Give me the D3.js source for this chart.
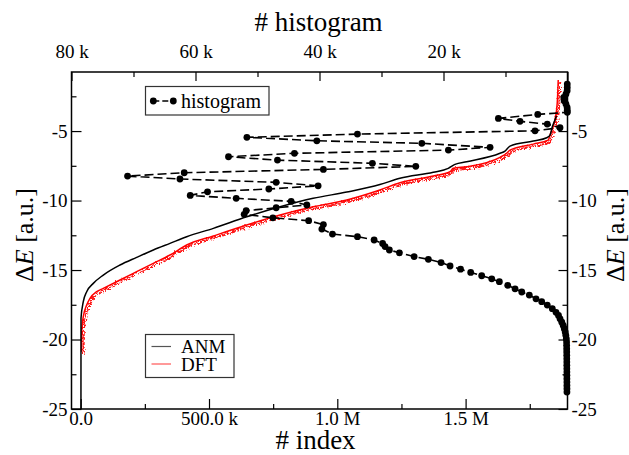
<!DOCTYPE html>
<html><head><meta charset="utf-8">
<script src="https://cdn.jsdelivr.net/npm/d3@7"></script>
<style>
html,body{margin:0;padding:0;background:#fff;}
svg{display:block;font-family:"Liberation Serif","Times New Roman",serif;}
</style></head>
<body><svg id="c" width="629" height="455"></svg>
<script>
// ---- data ----
const anmIndex = [1000, 1200, 10100, 23400, 49100, 88100, 153000, 218000, 283000, 348000, 413000, 517000, 647000, 777000, 906000, 1037000, 1166000, 1244000, 1374000, 1432500, 1458600, 1504000, 1634000, 1653500, 1673000, 1764000, 1816000, 1829000, 1838000, 1848000, 1854000];
const anmEnergy = [-25.0, -18.47, -17.28, -16.56, -15.96, -15.36, -14.64, -14.09, -13.56, -13.08, -12.60, -12.0, -11.17, -10.45, -9.84, -9.39, -8.85, -8.40, -7.97, -7.68, -7.40, -7.21, -6.60, -6.44, -6.08, -5.72, -5.48, -5.29, -4.69, -4.21, -3.92];

const dftIndex = [3600, 4200, 10100, 23400, 36200, 62400, 88100, 153000, 218000, 283000, 348000, 413000, 517000, 647000, 777000, 906000, 1037000, 1166000, 1244000, 1374000, 1439000, 1452000, 1504000, 1634000, 1660000, 1673000, 1764000, 1822000, 1831000, 1848000, 1857000, 1861000];
const dftEnergy = [-20.88, -19.32, -18.36, -17.52, -17.04, -16.56, -16.32, -15.72, -15.12, -14.52, -13.92, -13.20, -12.55, -11.76, -11.04, -10.45, -9.96, -9.24, -8.72, -8.24, -7.93, -7.68, -7.57, -6.89, -6.60, -6.37, -5.94, -5.65, -5.17, -4.21, -3.01, -1.33];

const histEnergy = [-1.62, -1.86, -2.10, -2.34, -2.58, -2.82, -3.06, -3.30, -3.50, -3.65,
  -3.80, -4.09, -4.30, -4.50, -4.76, -4.98, -5.22, -5.45, -5.70, -5.88, -6.17, -6.37, -6.60, -6.85, -7.09, -7.32, -7.54, -7.76, -8.00, -8.24, -8.45, -8.69, -8.94, -9.17, -9.37, -9.63, -9.84, -10.06, -10.32, -10.52, -10.73, -10.99, -11.24, -11.45, -11.73, -12.05, -12.41, -12.60, -12.84, -13.09, -13.31, -13.56, -13.76, -14.03, -14.23, -14.46, -14.71, -14.94, -15.17, -15.41, -15.63, -15.84, -16.10, -16.35, -16.58, -16.80, -17.07, -17.28, -17.52, -17.78,
  -18.04, -18.27, -18.51, -18.75, -18.99, -19.22, -19.46, -19.70, -19.94, -20.18, -20.42, -20.66, -20.90, -21.14, -21.38, -21.62, -21.86, -22.10, -22.34, -22.58, -22.82, -23.06, -23.30, -23.54, -23.78];
const histCount = [40, 40, 60, 250, 600, 550, 250, 60, 40, 30,
  4800, 11150, 7660, 3260, 1210, 5240, 33880, 51710, 40430, 23500, 12490, 19210, 44040, 54680, 46780, 31470, 24470, 39370, 61820, 70960, 62510, 46990, 40220, 48170, 58060, 60850, 53440, 44570, 42040, 46990, 51830, 52150, 47520, 41750, 39370, 39620, 37910, 33880, 31190, 29820, 29420, 28730, 27110, 24740, 22440, 20390, 18940, 17250, 15610, 13840, 12220, 10990, 9640, 8460, 7380, 6160, 5080, 4160, 3260, 2450,
  1850, 1450, 1200, 920, 690, 520, 370, 270, 190, 150, 140, 130, 125, 120, 115, 110, 110, 105, 100, 100, 100, 95, 95, 90, 90];

const bottomTicks = [0, 500000, 1000000, 1500000];
const bottomLabels = ["0.0", "500.0 k", "1.0 M", "1.5 M"];
const bottomMinor = [250000, 750000, 1250000, 1750000];
const topTicks = [80000, 60000, 40000, 20000, 0];
const topLabels = ["80 k", "60 k", "40 k", "20 k", ""];
const topMinor = [70000, 50000, 30000, 10000];
const yTicks = [-25, -20, -15, -10, -5];
const yLabels = ["-25", "-20", "-15", "-10", "-5"];
const yMinor = [-22.5, -17.5, -12.5, -7.5, -2.5];
const legendHist = ["histogram"];
const legendCurves = ["ANM", "DFT"];

// ---- layout ----
const L = 71.5, R = 567.5, T = 72, B = 409;
const svg = d3.select("#c");
const x = d3.scaleLinear().domain([-35850, 1897100]).range([L, R]);
const x2 = d3.scaleLinear().domain([80000, 0]).range([L, R]);
const y = d3.scaleLinear().domain([-25, -0.75]).range([B, T]);

const defs = svg.append("defs");
const f = defs.append("filter").attr("id", "noise").attr("x", "-3%").attr("y", "-5%").attr("width", "106%").attr("height", "110%");
f.append("feTurbulence").attr("type", "turbulence").attr("baseFrequency", "0.9 0.3").attr("numOctaves", 2).attr("seed", 4).attr("result", "t");
f.append("feDisplacementMap").attr("in", "SourceGraphic").attr("in2", "t").attr("scale", 6).attr("xChannelSelector", "R").attr("yChannelSelector", "G");

const line = d3.line().curve(d3.curveMonotoneX);
const dft = dftIndex.map((v, i) => [x(v), y(dftEnergy[i])]);
const anm = anmIndex.map((v, i) => [x(v), y(anmEnergy[i])]);

// DFT noisy halo + core
svg.append("path").attr("d", line(dft)).attr("fill", "none").attr("stroke", "#ff0000").attr("stroke-width", 2).attr("opacity", 0.9).attr("filter", "url(#noise)");
svg.append("path").attr("d", line(dft)).attr("fill", "none").attr("stroke", "#ff0000").attr("stroke-width", 1.5);
// ANM
svg.append("path").attr("d", line(anm)).attr("fill", "none").attr("stroke", "#000").attr("stroke-width", 1.5);

// histogram
const hist = histCount.map((c, i) => [x2(c), y(histEnergy[i])]);
svg.append("path").attr("d", d3.line()(hist)).attr("fill", "none").attr("stroke", "#000").attr("stroke-width", 1.6).attr("stroke-dasharray", "9,4");
svg.append("g").selectAll("circle").data(hist).join("circle")
  .attr("cx", d => d[0]).attr("cy", d => d[1]).attr("r", 3.4).attr("fill", "#000");

// axes
function style(g) {
  g.select(".domain").remove();
  g.selectAll("line").attr("stroke", "#000").attr("stroke-width", 1.2);
  g.selectAll("text").attr("font-family", '"Liberation Serif","Times New Roman",serif').attr("font-size", 19).attr("fill", "#000");
}
const ax = d3.axisBottom(x).tickValues(bottomTicks).tickFormat((d, i) => bottomLabels[i]).tickSizeInner(-10).tickSizeOuter(0).tickPadding(2);
svg.append("g").attr("transform", `translate(0,${B})`).call(ax).call(style);
svg.append("g").attr("transform", `translate(0,${B})`).call(d3.axisBottom(x).tickValues(bottomMinor).tickFormat("").tickSizeInner(-5).tickSizeOuter(0)).call(style);

const axt = d3.axisTop(x2).tickValues(topTicks).tickFormat((d, i) => topLabels[i]).tickSizeInner(-9).tickSizeOuter(0).tickPadding(14);
svg.append("g").attr("transform", `translate(0,${T})`).call(axt).call(style);
svg.append("g").attr("transform", `translate(0,${T})`).call(d3.axisTop(x2).tickValues(topMinor).tickFormat("").tickSizeInner(-5).tickSizeOuter(0)).call(style);

const ayl = d3.axisLeft(y).tickValues(yTicks).tickFormat((d, i) => yLabels[i]).tickSizeInner(-10).tickSizeOuter(0).tickPadding(4);
svg.append("g").attr("transform", `translate(${L},0)`).call(ayl).call(style);
svg.append("g").attr("transform", `translate(${L},0)`).call(d3.axisLeft(y).tickValues(yMinor).tickFormat("").tickSizeInner(-5).tickSizeOuter(0)).call(style);

const ayr = d3.axisRight(y).tickValues(yTicks).tickFormat((d, i) => yLabels[i]).tickSizeInner(-9).tickSizeOuter(0).tickPadding(4);
svg.append("g").attr("transform", `translate(${R},0)`).call(ayr).call(style);
svg.append("g").attr("transform", `translate(${R},0)`).call(d3.axisRight(y).tickValues(yMinor).tickFormat("").tickSizeInner(-5).tickSizeOuter(0)).call(style);

// frame
svg.append("rect").attr("x", L).attr("y", T).attr("width", R - L).attr("height", B - T).attr("fill", "none").attr("stroke", "#000").attr("stroke-width", 1.5);

// axis titles
svg.append("text").attr("x", (L + R) / 2 - 1).attr("y", 31).attr("text-anchor", "middle").attr("font-size", 27).text("# histogram");
svg.append("text").attr("x", (L + R) / 2 - 4).attr("y", 449).attr("text-anchor", "middle").attr("font-size", 27).text("# index");
function yTitle(tx) {
  const t = svg.append("text").attr("transform", `translate(${tx},235) rotate(-90)`).attr("text-anchor", "middle").attr("font-size", 26);
  t.append("tspan").text("Δ");
  t.append("tspan").attr("font-style", "italic").text("E");
  t.append("tspan").text(" [a.u.]");
}
yTitle(33);
yTitle(624);

// legend: histogram
svg.append("rect").attr("x", 145.5).attr("y", 86.5).attr("width", 123.5).attr("height", 28.5).attr("fill", "#fff").attr("stroke", "#333").attr("stroke-width", 1.2);
svg.append("line").attr("x1", 153.3).attr("x2", 173.3).attr("y1", 101).attr("y2", 101).attr("stroke", "#000").attr("stroke-width", 1.6).attr("stroke-dasharray", "6,3");
svg.append("circle").attr("cx", 153.3).attr("cy", 101).attr("r", 3.4);
svg.append("circle").attr("cx", 173.3).attr("cy", 101).attr("r", 3.4);
svg.append("text").attr("x", 181).attr("y", 108).attr("font-size", 20).text(legendHist[0]);

// legend: curves
svg.append("rect").attr("x", 145.5).attr("y", 334.5).attr("width", 88.5).attr("height", 43).attr("fill", "#fff").attr("stroke", "#333").attr("stroke-width", 1.2);
const lc = ["#555", "#ff5555"];
legendCurves.forEach((name, i) => {
  const yy = 346.5 + i * 17.5;
  svg.append("line").attr("x1", 151.5).attr("x2", 171).attr("y1", yy).attr("y2", yy).attr("stroke", lc[i]).attr("stroke-width", 1.2);
  svg.append("text").attr("x", 181).attr("y", yy + 6.5).attr("font-size", 19).text(name);
});
</script></body></html>
